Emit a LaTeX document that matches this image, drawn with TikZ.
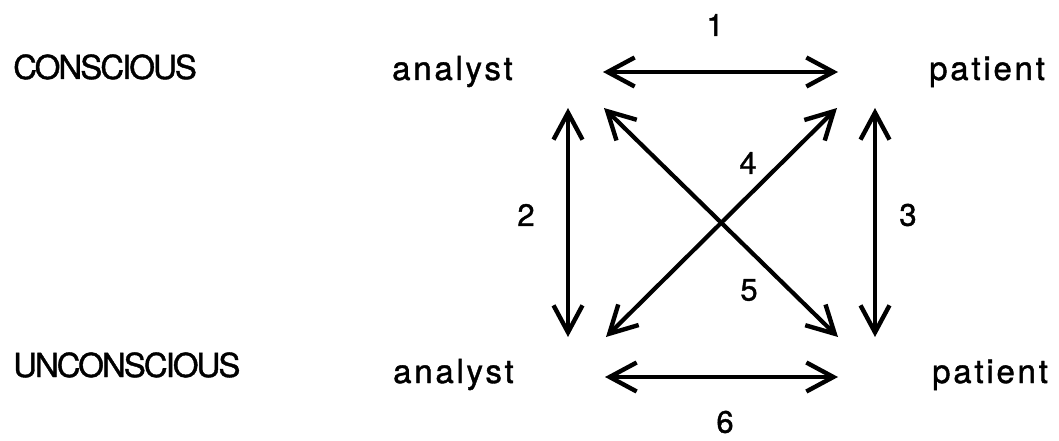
\documentclass[tikz,border=0pt]{standalone}
\usepackage{fontspec}
\setmainfont{TeX Gyre Heros}[FakeBold=1.2]
\newfontfamily\wide[LetterSpace=8.4,FakeBold=1.2]{TeX Gyre Heros}
\newfontfamily\tight[LetterSpace=-6,FakeBold=1.2]{TeX Gyre Heros}
\usetikzlibrary{arrows.meta}
\tikzset{barb/.tip={Straight Barb[length=27pt,width=29pt,line width=4.4pt]}}
\begin{document}
\begin{tikzpicture}[x=1pt,y=-1pt,
  lbl/.style={inner sep=0pt,anchor=base west},
  word/.style={lbl,font=\fontsize{33}{33}\selectfont\wide},
  level/.style={lbl,font=\fontsize{33}{33}\selectfont\tight},
  num/.style={inner sep=0pt,font=\fontsize{31}{31}\selectfont},
  link/.style={line width=3.2pt,barb-barb},
  diag/.style={link,line width=4.2pt}]
\useasboundingbox (0,0) rectangle (1059,441);
% row labels
\node[level] (con) at (13,79) {CONSCIOUS};
\node[level] (uncon) at (13,377) {UNCONSCIOUS};
\node[word] (aU) at (392,80) {analyst};
\node[word] (pU) at (929,80) {patient};
\node[word] (aL) at (393,383) {analyst};
\node[word] (pL) at (932,383) {patient};
% endpoints
\coordinate (h1a) at (603,72);  \coordinate (h1b) at (838,72);
\coordinate (h6a) at (605,377); \coordinate (h6b) at (838,377);
\coordinate (v2a) at (568,108); \coordinate (v2b) at (568,337);
\coordinate (v3a) at (875,108); \coordinate (v3b) at (875,337);
\coordinate (dUL) at (604,108); \coordinate (dLR) at (838,337);
\coordinate (dLL) at (606,337); \coordinate (dUR) at (837,108);
\draw[link] (h1a) -- (h1b);
\draw[link] (h6a) -- (h6b);
\draw[link] (v2a) -- (v2b);
\draw[link] (v3a) -- (v3b);
\draw[diag] (dUL) -- (dLR);
\draw[diag] (dLL) -- (dUR);
% numbers
\node[num] (n1) at (715,25) {1};
\node[num] (n2) at (526,215) {2};
\node[num] (n3) at (908,215) {3};
\node[num] (n4) at (748,163) {4};
\node[num] (n5) at (749,290) {5};
\node[num] (n6) at (725,422) {6};
\end{tikzpicture}
\end{document}
